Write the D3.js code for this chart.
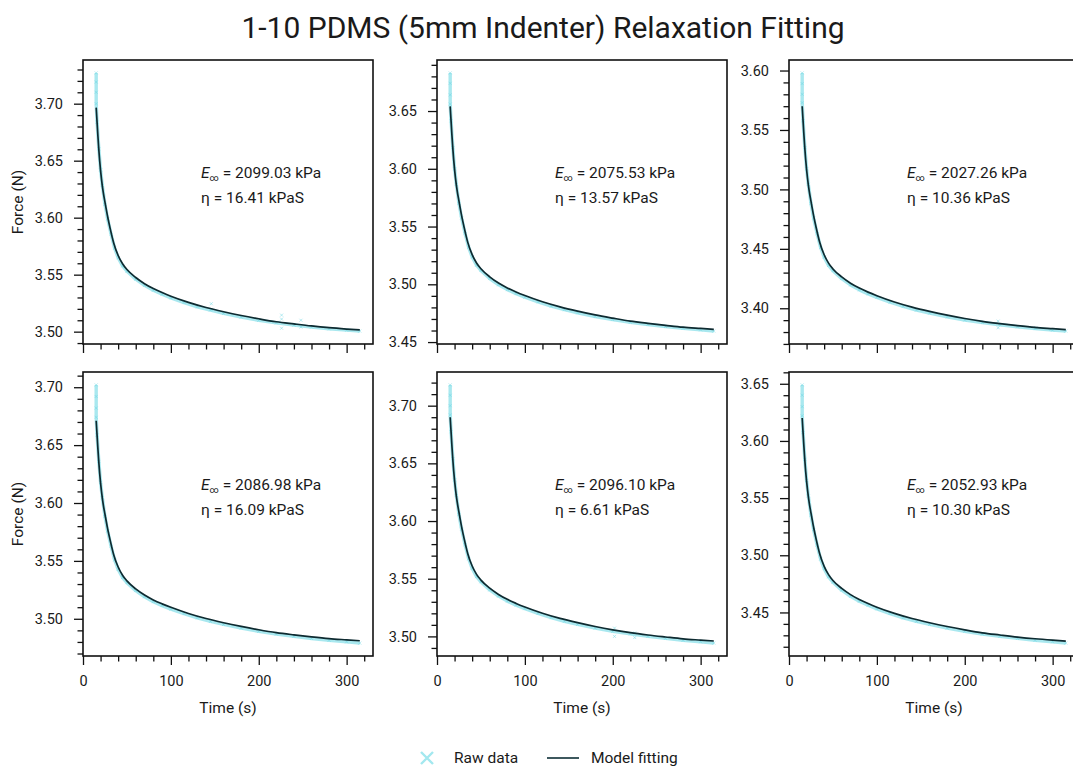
<!DOCTYPE html>
<html>
<head>
<meta charset="utf-8">
<script src="https://cdn.jsdelivr.net/npm/d3@7"></script>
<style>
  body { margin: 0; background: #fff; }
  svg text { font-family: Roboto, "Noto Sans", sans-serif; fill: #1a1a1a; }
</style>
</head>
<body>
<div id="chart"></div>
<script>
// ---- data ----
const fitTime = [15, 17, 19, 21, 23, 25, 28, 31, 35, 40, 45, 50, 60, 70, 80, 90, 100, 120, 140, 160, 180, 200, 220, 240, 260, 280, 300, 315];
const fit1 = [3.6965, 3.6712, 3.6497, 3.6341, 3.6224, 3.6136, 3.6010, 3.5902, 3.5776, 3.5668, 3.5596, 3.5545, 3.5475, 3.5421, 3.5378, 3.5343, 3.5311, 3.5257, 3.5212, 3.5175, 3.5142, 3.5113, 3.5087, 3.5068, 3.5050, 3.5035, 3.5023, 3.5015];
const fit2 = [3.6540, 3.6289, 3.6077, 3.5922, 3.5807, 3.5720, 3.5594, 3.5488, 3.5363, 3.5257, 3.5185, 3.5135, 3.5065, 3.5011, 3.4969, 3.4934, 3.4903, 3.4849, 3.4805, 3.4768, 3.4735, 3.4707, 3.4681, 3.4662, 3.4645, 3.4629, 3.4618, 3.4610];
const fit3 = [3.5700, 3.5456, 3.5249, 3.5098, 3.4986, 3.4901, 3.4779, 3.4675, 3.4553, 3.4450, 3.4380, 3.4331, 3.4264, 3.4211, 3.4170, 3.4136, 3.4106, 3.4053, 3.4010, 3.3974, 3.3942, 3.3914, 3.3890, 3.3871, 3.3854, 3.3839, 3.3828, 3.3820];
const fit4 = [3.6710, 3.6463, 3.6254, 3.6102, 3.5988, 3.5903, 3.5779, 3.5675, 3.5551, 3.5447, 3.5376, 3.5327, 3.5258, 3.5205, 3.5163, 3.5129, 3.5099, 3.5046, 3.5002, 3.4966, 3.4934, 3.4905, 3.4880, 3.4861, 3.4844, 3.4829, 3.4818, 3.4810];
const fit5 = [3.6900, 3.6648, 3.6434, 3.6279, 3.6163, 3.6076, 3.5949, 3.5843, 3.5717, 3.5610, 3.5538, 3.5488, 3.5418, 3.5364, 3.5321, 3.5286, 3.5255, 3.5201, 3.5156, 3.5119, 3.5086, 3.5057, 3.5032, 3.5012, 3.4995, 3.4979, 3.4968, 3.4960];
const fit6 = [3.6200, 3.5947, 3.5732, 3.5576, 3.5459, 3.5371, 3.5245, 3.5137, 3.5011, 3.4903, 3.4831, 3.4780, 3.4710, 3.4656, 3.4613, 3.4578, 3.4546, 3.4492, 3.4447, 3.4410, 3.4377, 3.4348, 3.4322, 3.4303, 3.4285, 3.4270, 3.4258, 3.4250];

const rawTime = [15, 15, 15, 15, 16, 18, 20, 22, 25, 28, 32, 36, 40, 45, 50, 60, 70, 80, 90, 100, 115, 130, 145, 160, 180, 200, 220, 240, 260, 280, 300, 315];
const raw1 = [3.727, 3.719, 3.710, 3.700, 3.6838, 3.6604, 3.6419, 3.6283, 3.6116, 3.5990, 3.5853, 3.5732, 3.5648, 3.5576, 3.5530, 3.5460, 3.5406, 3.5363, 3.5328, 3.5296, 3.5255, 3.5218, 3.5190, 3.5160, 3.5128, 3.5100, 3.5077, 3.5058, 3.5040, 3.5025, 3.5013, 3.5005];
const raw2 = [3.683, 3.674, 3.664, 3.656, 3.6415, 3.6183, 3.6000, 3.5865, 3.5700, 3.5574, 3.5439, 3.5320, 3.5237, 3.5165, 3.5120, 3.5050, 3.4996, 3.4954, 3.4919, 3.4888, 3.4848, 3.4811, 3.4780, 3.4753, 3.4721, 3.4694, 3.4671, 3.4652, 3.4635, 3.4619, 3.4606, 3.4595];
const raw3 = [3.598, 3.589, 3.580, 3.573, 3.5578, 3.5352, 3.5174, 3.5042, 3.4881, 3.4759, 3.4627, 3.4511, 3.4430, 3.4360, 3.4316, 3.4249, 3.4196, 3.4155, 3.4121, 3.4091, 3.4051, 3.4016, 3.3985, 3.3959, 3.3928, 3.3901, 3.3880, 3.3861, 3.3844, 3.3829, 3.3816, 3.3808];
const raw4 = [3.702, 3.692, 3.682, 3.674, 3.6587, 3.6359, 3.6178, 3.6045, 3.5883, 3.5759, 3.5626, 3.5508, 3.5427, 3.5356, 3.5312, 3.5243, 3.5190, 3.5148, 3.5114, 3.5084, 3.5044, 3.5008, 3.4977, 3.4951, 3.4920, 3.4892, 3.4868, 3.4848, 3.4830, 3.4814, 3.4801, 3.4790];
const raw5 = [3.718, 3.709, 3.700, 3.692, 3.6774, 3.6541, 3.6357, 3.6221, 3.6056, 3.5929, 3.5794, 3.5673, 3.5590, 3.5518, 3.5473, 3.5403, 3.5349, 3.5306, 3.5271, 3.5240, 3.5199, 3.5162, 3.5131, 3.5104, 3.5072, 3.5044, 3.5022, 3.5000, 3.4983, 3.4966, 3.4954, 3.4942];
const raw6 = [3.649, 3.640, 3.630, 3.622, 3.6073, 3.5839, 3.5654, 3.5518, 3.5351, 3.5225, 3.5088, 3.4967, 3.4883, 3.4811, 3.4765, 3.4695, 3.4641, 3.4598, 3.4563, 3.4531, 3.4490, 3.4453, 3.4422, 3.4395, 3.4363, 3.4335, 3.4311, 3.4292, 3.4273, 3.4257, 3.4244, 3.4232];

// small noise spikes in the raw data
const noiseTime1 = [146, 146, 226, 226, 226, 248, 248];
const noiseForce1 = [3.5245, 3.5195, 3.5145, 3.5110, 3.5030, 3.5100, 3.5040];
const noiseTime3 = [238, 238, 281, 298];
const noiseForce3 = [3.3892, 3.3836, 3.3835, 3.3822];
const noiseTime5 = [202, 202, 225, 225];
const noiseForce5 = [3.5072, 3.5000, 3.5030, 3.4990];

const eInf = ['2099.03', '2075.53', '2027.26', '2086.98', '2096.10', '2052.93'];
const eta = ['16.41', '13.57', '10.36', '16.09', '6.61', '10.30'];

const xMajorTicks = [0, 100, 200, 300];

const panels = [
  { fit: fit1, raw: raw1, nT: noiseTime1, nF: noiseForce1 },
  { fit: fit2, raw: raw2, nT: [], nF: [] },
  { fit: fit3, raw: raw3, nT: noiseTime3, nF: noiseForce3 },
  { fit: fit4, raw: raw4, nT: [], nF: [] },
  { fit: fit5, raw: raw5, nT: noiseTime5, nF: noiseForce5 },
  { fit: fit6, raw: raw6, nT: [], nF: [] }
];

// ---- layout ----
const w = 1073, h = 769;
const pw = 290, ph = 284;
const lefts = [83, 437, 789];
const tops = [60, 372];
const rawColor = '#6fd8e4';
const fitColor = '#0e2a30';
const labelSize = '15.5px';

const svg = d3.select('#chart').append('svg')
  .attr('width', w)
  .attr('height', h);

svg.append('text')
  .attr('x', 543)
  .attr('y', 38)
  .attr('text-anchor', 'middle')
  .style('font-size', '30px')
  .text('1-10 PDMS (5mm Indenter) Relaxation Fitting');

// x marker path
const xMark = (cx, cy, s) => `M${cx - s},${cy - s}L${cx + s},${cy + s}M${cx - s},${cy + s}L${cx + s},${cy - s}`;

panels.forEach((p, i) => {
  const col = i % 3, row = Math.floor(i / 3);
  const g = svg.append('g').attr('transform', `translate(${lefts[col]},${tops[row]})`);

  // matplotlib-like autoscale: 5% margins on the raw data
  const allT = rawTime.concat(p.nT);
  const allF = p.raw.concat(p.nF);
  const tMin = d3.min(allT), tMax = d3.max(allT);
  const fMin = d3.min(allF), fMax = d3.max(allF);
  const tPad = (tMax - tMin) * 0.05, fPad = (fMax - fMin) * 0.05;

  const x = d3.scaleLinear().domain([tMin - tPad, tMax + tPad]).range([0, pw]);
  const y = d3.scaleLinear().domain([fMin - fPad, fMax + fPad]).range([ph, 0]);

  // ticks
  const xMinor = d3.range(0, tMax + tPad, 20).filter(v => v % 100 !== 0);
  const yLo = y.domain()[0], yHi = y.domain()[1];
  const yMinor = d3.range(Math.ceil(yLo * 100), Math.floor(yHi * 100) + 1)
    .filter(v => v % 5 !== 0).map(v => v / 100);
  const yMajor = d3.range(Math.ceil(yLo * 20), Math.floor(yHi * 20) + 1).map(v => v / 20);

  const xMinorAxis = g.append('g').attr('transform', `translate(0,${ph})`)
    .call(d3.axisBottom(x).tickValues(xMinor).tickSize(5.5).tickFormat(''));
  const xMajorAxis = g.append('g').attr('transform', `translate(0,${ph})`)
    .call(d3.axisBottom(x).tickValues(xMajorTicks).tickSize(9).tickPadding(11)
      .tickFormat(row === 1 ? d3.format('d') : ''));
  const yMinorAxis = g.append('g')
    .call(d3.axisLeft(y).tickValues(yMinor).tickSize(5.5).tickFormat(''));
  const yMajorAxis = g.append('g')
    .call(d3.axisLeft(y).tickValues(yMajor).tickSize(9).tickPadding(11).tickFormat(d3.format('.2f')));

  [xMinorAxis, xMajorAxis, yMinorAxis, yMajorAxis].forEach(a => {
    a.select('.domain').remove();
    a.selectAll('.tick line').attr('stroke', '#111').attr('stroke-width', 1.3);
    a.selectAll('.tick text').style('font-size', '14.5px').attr('fill', '#1a1a1a');
  });

  // clip
  g.append('clipPath').attr('id', 'clip' + i)
    .append('rect').attr('width', pw).attr('height', ph);
  const plot = g.append('g').attr('clip-path', `url(#clip${i})`);

  // raw data: dense band + x markers
  const rawPts = rawTime.map((t, k) => [t, p.raw[k]]);
  plot.append('path')
    .datum(rawPts)
    .attr('fill', 'none')
    .attr('stroke', rawColor)
    .attr('stroke-opacity', 0.6)
    .attr('stroke-width', 3.4)
    .attr('stroke-linejoin', 'round')
    .attr('d', d3.line().x(d => x(d[0])).y(d => y(d[1])).curve(d3.curveLinear));
  const markPts = rawPts.concat(p.nT.map((t, k) => [t, p.nF[k]]));
  plot.selectAll('.raw').data(markPts).enter().append('path')
    .attr('class', 'raw')
    .attr('d', d => xMark(x(d[0]), y(d[1]), 1.5))
    .attr('stroke', rawColor)
    .attr('stroke-opacity', 0.5)
    .attr('stroke-width', 1)
    .attr('fill', 'none');

  // model fit
  const fitPts = fitTime.map((t, k) => [t, p.fit[k]]);
  plot.append('path')
    .datum(fitPts)
    .attr('fill', 'none')
    .attr('stroke', fitColor)
    .attr('stroke-width', 1.7)
    .attr('d', d3.line().x(d => x(d[0])).y(d => y(d[1])).curve(d3.curveMonotoneX));

  // frame
  g.append('rect')
    .attr('width', pw).attr('height', ph)
    .attr('fill', 'none').attr('stroke', '#111').attr('stroke-width', 1.6);

  // annotation
  const ay = ph * 0.415;
  const t1 = g.append('text').attr('x', 118).attr('y', ay).style('font-size', labelSize);
  t1.append('tspan').style('font-style', 'italic').text('E');
  t1.append('tspan').attr('dy', 3).style('font-size', '9px').text('∞');
  t1.append('tspan').attr('dy', -3).text(' = ' + eInf[i] + ' kPa');
  g.append('text').attr('x', 118).attr('y', ay + 25).style('font-size', labelSize)
    .text('η = ' + eta[i] + ' kPaS');

  // axis labels
  if (col === 0) {
    g.append('text')
      .attr('transform', `translate(${-60},${ph / 2}) rotate(-90)`)
      .attr('text-anchor', 'middle')
      .style('font-size', labelSize)
      .text('Force (N)');
  }
  if (row === 1) {
    g.append('text')
      .attr('x', pw / 2).attr('y', ph + 57)
      .attr('text-anchor', 'middle')
      .style('font-size', labelSize)
      .text('Time (s)');
  }
});

// legend
const leg = svg.append('g');
leg.append('path')
  .attr('d', xMark(427, 758, 6))
  .attr('stroke', '#a3e8ef')
  .attr('stroke-width', 2.4)
  .attr('fill', 'none');
leg.append('text').attr('x', 454).attr('y', 763).style('font-size', labelSize).text('Raw data');
leg.append('line')
  .attr('x1', 547).attr('x2', 579).attr('y1', 758).attr('y2', 758)
  .attr('stroke', '#1a3a42').attr('stroke-width', 1.7);
leg.append('text').attr('x', 591).attr('y', 763).style('font-size', labelSize).text('Model fitting');
</script>
</body>
</html>
